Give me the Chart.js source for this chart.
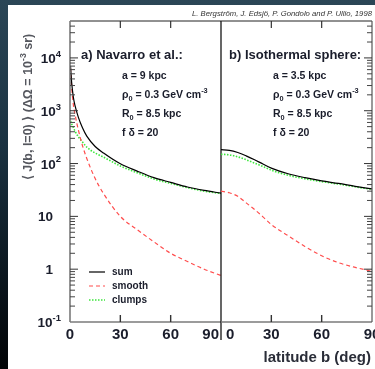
<!DOCTYPE html>
<html>
<head>
<meta charset="utf-8">
<script src="https://cdn.jsdelivr.net/npm/chart.js@4.4.1/dist/chart.umd.min.js"></script>
<style>
  html, body { margin: 0; padding: 0; }
  body {
    width: 375px; height: 369px; overflow: hidden; position: relative;
    background: linear-gradient(180deg, #2b4656 0%, #1a3140 40%, #0b161e 75%, #020406 100%);
  }
  #sheet { position: absolute; left: 8px; top: 5px; right: 0; bottom: 0; background: #fff; }
  canvas { position: absolute; left: 0; top: 0; }
</style>
</head>
<body>
<div id="sheet"></div>
<canvas id="navarro" width="375" height="369"></canvas>
<canvas id="isothermal" width="375" height="369"></canvas>
<script>
// latitude b (deg) and <J> for the Navarro profile
const latNavarro = [0.3, 1, 2, 3, 5, 7.5, 10, 15, 20, 30, 40, 50, 60, 70, 80, 90];
const sumNavarro = [7000, 3400, 1800, 1250, 750, 470, 330, 210, 158, 99, 72, 54, 44, 36, 31, 27.5];
const smoothNavarro = [6500, 2800, 1300, 850, 430, 215, 125, 52, 27, 10, 5.6, 3.3, 2.0, 1.4, 1.0, 0.76];
const clumpsNavarro = [640, 560, 480, 410, 320, 255, 205, 158, 132, 90, 67, 51, 42, 35, 30, 27];

// latitude b (deg) and <J> for the isothermal sphere
const latIso = [0, 5, 10, 15, 20, 25, 30, 40, 50, 60, 70, 80, 90];
const sumIso = [183, 178, 162, 140, 118, 98, 82, 64, 54, 47, 42, 37, 33];
const smoothIso = [30, 28, 24, 18, 13.5, 9.8, 7.0, 4.3, 2.7, 1.8, 1.33, 1.08, 0.91];
const clumpsIso = [150, 146, 134, 118, 102, 88, 75, 60, 51.5, 45.5, 40.8, 36.3, 32.3];

const yMajor = [0.1, 1, 10, 100, 1000, 10000];
const yTickLabels = ["10^{-1}", "1", "10", "10^{2}", "10^{3}", "10^{4}"];
const xTicks = [0, 30, 60, 90];
const xTickLabels = ["0", "30", "60", "90"];

const paramsNavarro = ["a = 9 kpc", "ρ_{0} = 0.3 GeV cm^{-3}", "R_{0} = 8.5 kpc", "f δ = 20"];
const paramsIso = ["a = 3.5 kpc", "ρ_{0} = 0.3 GeV cm^{-3}", "R_{0} = 8.5 kpc", "f δ = 20"];

const FONT = '"Liberation Sans", Arial, Helvetica, sans-serif';
const INK = "#1a1d2b";

// split "x_{a}^{b}" style markup into runs
function richParts(str) {
  const parts = [];
  const re = /([_^])\{([^}]*)\}/g;
  let last = 0, m;
  while ((m = re.exec(str))) {
    if (m.index > last) parts.push({ t: str.slice(last, m.index), k: "" });
    parts.push({ t: m[2], k: m[1] });
    last = re.lastIndex;
  }
  if (last < str.length) parts.push({ t: str.slice(last), k: "" });
  return parts;
}

function drawRich(ctx, str, x, y, size, align, color, style) {
  const parts = richParts(str);
  const pre = style || "bold";
  const fontFor = p => `${pre} ${p.k ? size * 0.7 : size}px ${FONT}`;
  let w = 0;
  parts.forEach(p => { ctx.font = fontFor(p); p.w = ctx.measureText(p.t).width; w += p.w; });
  let cx = align === "right" ? x - w : align === "center" ? x - w / 2 : x;
  ctx.fillStyle = color;
  ctx.textAlign = "left";
  ctx.textBaseline = "alphabetic";
  parts.forEach(p => {
    ctx.font = fontFor(p);
    const dy = p.k === "^" ? -size * 0.45 : p.k === "_" ? size * 0.25 : 0;
    ctx.fillText(p.t, cx, y + dy);
    cx += p.w;
  });
}

function line(ctx, x1, y1, x2, y2, color, width) {
  ctx.beginPath();
  ctx.moveTo(x1, y1);
  ctx.lineTo(x2, y2);
  ctx.strokeStyle = color;
  ctx.lineWidth = width;
  ctx.stroke();
}

const yMinor = yMajor.flatMap(d => [2, 3, 4, 5, 6, 7, 8, 9].map(k => d * k)).filter(v => v < 50000);

// frame, ticks and all the text of one panel
function panelDecor(cfg) {
  return {
    id: "panelDecor",
    afterDraw(chart) {
      const ctx = chart.ctx;
      const { left, right, top, bottom } = chart.chartArea;
      const xs = chart.scales.x, ys = chart.scales.y;
      ctx.save();

      // frame
      line(ctx, left, top, right, top, "#222", 1);
      line(ctx, left, bottom, right, bottom, "#7a7a7a", 1.6);
      if (cfg.first) {
        line(ctx, left, top, left, bottom, "#7a7a7a", 1.6);
        line(ctx, right, top, right, bottom + 18, "#000", 1.2);
      } else {
        line(ctx, right, top, right, bottom, "#555", 1.2);
      }

      // y ticks, pointing into the panel
      const tx = cfg.first ? left : right;
      const dir = cfg.first ? 1 : -1;
      yMajor.forEach(v => {
        const py = ys.getPixelForValue(v);
        if (py > top && py < bottom) line(ctx, tx, py, tx + dir * 8, py, "#333", 1);
      });
      yMinor.forEach(v => {
        const py = ys.getPixelForValue(v);
        line(ctx, tx, py, tx + dir * 5, py, "#444", 1);
      });

      // x ticks on bottom and top edges
      xTicks.forEach(v => {
        const px = xs.getPixelForValue(v);
        if (px <= left + 1 || px >= right - 1) return;
        line(ctx, px, bottom, px, bottom - 7, "#333", 1.4);
        line(ctx, px, top, px, top + 7, "#333", 1.2);
      });

      // x tick labels
      xTicks.forEach((v, i) => {
        const px = xs.getPixelForValue(v);
        let align = "center", x = px;
        if (cfg.first && i === xTicks.length - 1) { align = "right"; x = px - 2; }
        if (!cfg.first && i === 0) { align = "left"; x = px + 5; }
        drawRich(ctx, xTickLabels[i], x, bottom + 17, 15, align, INK);
      });

      // panel heading and parameters
      drawRich(ctx, cfg.heading, cfg.headX, 58.5, 13, "left", INK);
      cfg.params.forEach((p, i) => drawRich(ctx, p, cfg.paramX, 79 + i * 19, 10.5, "left", INK));

      if (cfg.first) {
        // y tick labels
        yMajor.forEach((v, i) => {
          const py = ys.getPixelForValue(v) + 5;
          const lab = yTickLabels[i];
          drawRich(ctx, lab, lab.includes("^") ? 61 : 53, py, 13.5, "right", INK);
        });

        // y title, rotated
        ctx.save();
        ctx.translate(32, 107);
        ctx.rotate(-Math.PI / 2);
        drawRich(ctx, "⟨ J(b, l=0) ⟩ (ΔΩ = 10^{-3} sr)", 0, 0, 12.5, "center", "#55575e");
        ctx.restore();

        // legend inside the lower left corner
        chart.data.datasets.forEach((ds, i) => {
          const ly = 272 + i * 14;
          ctx.setLineDash(ds.borderDash || []);
          line(ctx, 89, ly, 105, ly, ds.borderColor, ds.borderWidth);
          ctx.setLineDash([]);
          ctx.font = `bold 10px ${FONT}`;
          ctx.fillStyle = INK;
          ctx.textAlign = "left";
          ctx.textBaseline = "middle";
          ctx.fillText(ds.label, 112, ly);
        });
      } else {
        // x title and credits
        drawRich(ctx, "latitude b (deg)", 371, 362, 15, "right", "#2a2d38");
        ctx.font = `italic 8px ${FONT}`;
        ctx.fillStyle = "#333";
        ctx.textAlign = "right";
        ctx.textBaseline = "middle";
        ctx.fillText("L. Bergström, J. Edsjö, P. Gondolo and P. Ullio, 1998", 372, 14, 180);
      }
      ctx.restore();
    }
  };
}

function series(lat, vals, label, color, dash, width) {
  return {
    label: label,
    data: lat.map((b, i) => ({ x: b, y: vals[i] })),
    borderColor: color,
    borderDash: dash,
    borderWidth: width,
    pointRadius: 0,
    fill: false,
    cubicInterpolationMode: "monotone"
  };
}

function makeChart(id, lat, sum, smooth, clumps, padding, cfg) {
  return new Chart(document.getElementById(id), {
    type: "line",
    data: {
      datasets: [
        series(lat, sum, "sum", "#000000", [], 1.2),
        series(lat, smooth, "smooth", "#ff4d4d", [4, 3], 1.2),
        series(lat, clumps, "clumps", "#3de63d", [1.5, 1.5], 1.6)
      ]
    },
    options: {
      responsive: false,
      devicePixelRatio: 1,
      animation: false,
      layout: { padding: padding },
      plugins: { legend: { display: false }, tooltip: { enabled: false } },
      scales: {
        x: { type: "linear", min: 0, max: 90, display: false },
        y: { type: "logarithmic", min: 0.1, max: 50000, display: false }
      }
    },
    plugins: [panelDecor(cfg)]
  });
}

makeChart("navarro", latNavarro, sumNavarro, smoothNavarro, clumpsNavarro,
  { left: 70, top: 21, right: 154, bottom: 47 },
  { first: true, heading: "a) Navarro et al.:", headX: 81, params: paramsNavarro, paramX: 122 });

makeChart("isothermal", latIso, sumIso, smoothIso, clumpsIso,
  { left: 221, top: 21, right: 3, bottom: 47 },
  { first: false, heading: "b) Isothermal sphere:", headX: 229, params: paramsIso, paramX: 273 });
</script>
</body>
</html>
